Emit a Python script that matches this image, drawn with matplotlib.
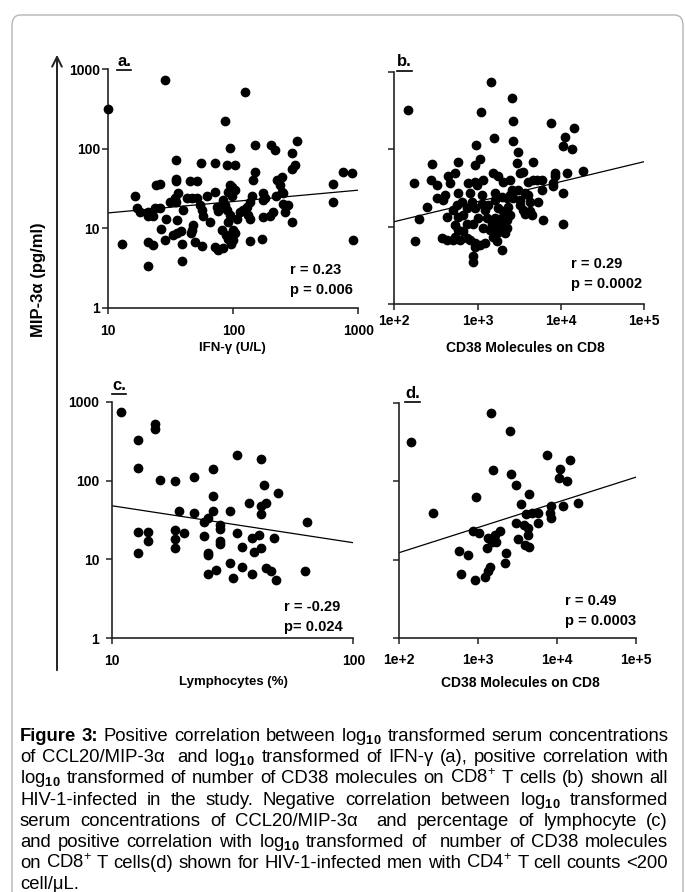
import numpy as np
import matplotlib
matplotlib.use('Agg')
import matplotlib.pyplot as plt
from matplotlib.patches import FancyBboxPatch, FancyArrowPatch
from matplotlib.lines import Line2D
from matplotlib.ticker import NullLocator

plt.rcParams['font.family'] = ['Liberation Sans', 'DejaVu Sans']
plt.rcParams['mathtext.fontset'] = 'custom'
plt.rcParams['mathtext.rm'] = 'Liberation Sans'
plt.rcParams['mathtext.bf'] = 'Liberation Sans:bold'

W, H = 685, 892

# values, stored as log10
# panel a: IFN-gamma (U/L) vs MIP-3a (pg/ml)
ifn_log = [1.00, 1.45, 2.09, 1.93, 1.11, 1.21, 1.23, 1.25, 1.32, 1.32,
           1.36, 1.32, 1.32, 1.36, 1.37, 1.41, 1.38, 1.41, 1.46, 1.42,
           1.45, 1.54, 1.54, 1.54, 1.49, 1.53, 1.54, 1.56, 1.60, 1.55,
           1.52, 1.55, 1.58, 1.59, 1.59, 1.65, 1.71, 1.63, 1.67, 1.71,
           1.68, 1.67, 1.66, 1.69, 1.73, 1.75, 1.76, 1.75, 1.74, 1.79,
           1.81, 1.85, 1.85, 1.87, 1.88, 1.85, 1.88, 1.92, 1.92, 1.93,
           1.91, 1.94, 1.96, 1.97, 1.95, 1.97, 1.96, 1.99, 1.95, 1.97,
           1.96, 2.01, 1.99, 2.01, 2.00, 1.98, 2.00, 2.01, 2.03, 2.05,
           2.08, 2.11, 2.13, 2.15, 2.12, 2.13, 2.16, 2.17, 2.17, 2.13,
           2.23, 2.24, 2.25, 2.24, 2.24, 2.29, 2.32, 2.30, 2.33, 2.35,
           2.39, 2.37, 2.39, 2.40, 2.40, 2.44, 2.41, 2.47, 2.47, 2.51,
           2.47, 2.49, 2.80, 2.80, 2.88, 2.95, 2.96, 2.34]
mip_a_log = [2.50, 2.87, 2.71, 2.35, 0.80, 1.41, 1.25, 1.21, 0.53, 0.83,
             0.79, 1.21, 1.15, 1.15, 1.25, 1.25, 1.54, 1.56, 1.11, 0.99,
             0.85, 1.86, 1.62, 1.59, 1.33, 1.38, 1.33, 1.44, 1.23, 1.10,
             0.91, 0.94, 0.96, 0.80, 0.59, 1.59, 1.59, 1.38, 1.38, 1.38,
             1.04, 0.98, 0.94, 0.83, 1.29, 1.23, 1.15, 0.78, 1.82, 1.40,
             1.08, 1.82, 1.46, 1.27, 1.22, 0.77, 0.72, 0.75, 1.36, 1.29,
             0.98, 0.91, 0.87, 2.01, 1.80, 1.54, 1.46, 1.40, 1.23, 1.17,
             1.08, 1.80, 1.52, 1.48, 0.85, 0.80, 0.98, 0.94, 1.12, 1.20,
             1.23, 1.27, 1.33, 1.40, 1.17, 1.12, 1.61, 1.71, 2.05, 0.84,
             0.87, 1.44, 1.38, 1.35, 1.14, 1.15, 1.21, 2.05, 1.99, 1.61,
             1.65, 1.54, 1.46, 1.44, 1.30, 1.29, 1.20, 1.08, 1.95, 2.10,
             1.75, 1.80, 1.56, 1.33, 1.71, 1.69, 0.85, 1.40]

# panel b: CD38 molecules on CD8, all patients
cd38_b_log = [2.16, 3.16, 3.41, 3.04, 3.43, 3.88, 4.16, 3.20, 3.42, 4.05,
              4.03, 4.13, 2.98, 3.49, 2.45, 2.76, 2.97, 3.03, 3.47, 3.66,
              2.24, 2.44, 2.51, 2.65, 2.73, 2.67, 2.89, 2.97, 3.07, 2.99,
              3.19, 3.25, 3.31, 3.39, 3.51, 3.55, 3.61, 3.67, 3.71, 3.77,
              3.93, 3.93, 4.07, 4.27, 3.91, 3.91, 3.77, 4.03, 2.51, 2.61,
              2.59, 2.39, 2.30, 2.25, 2.63, 2.77, 2.81, 2.75, 2.71, 2.91,
              2.93, 2.87, 2.97, 3.05, 3.05, 3.13, 3.09, 3.21, 3.21, 3.25,
              3.29, 3.35, 3.39, 3.37, 3.41, 3.49, 3.57, 3.61, 3.43, 3.51,
              3.63, 3.73, 3.51, 3.55, 3.63, 3.57, 3.65, 3.79, 4.03, 2.77,
              2.83, 2.73, 2.87, 2.95, 3.01, 3.11, 3.21, 3.29, 2.77, 2.83,
              2.73, 2.57, 2.63, 2.71, 2.79, 2.87, 2.91, 2.97, 3.07, 3.15,
              3.19, 3.23, 3.29, 3.33, 2.97, 3.03, 3.09, 3.23, 3.29, 2.95,
              2.95, 3.17, 3.23, 3.33, 3.31, 3.39, 3.35, 3.35, 3.33]
mip_b_log = [2.51, 2.87, 2.66, 2.48, 2.36, 2.34, 2.27, 2.15, 2.10, 2.16,
             2.04, 2.00, 2.05, 1.96, 1.81, 1.84, 1.80, 1.87, 1.82, 1.84,
             1.56, 1.60, 1.54, 1.65, 1.69, 1.56, 1.56, 1.58, 1.60, 1.54,
             1.69, 1.65, 1.58, 1.60, 1.69, 1.71, 1.58, 1.60, 1.60, 1.60,
             1.69, 1.65, 1.69, 1.72, 1.56, 1.52, 1.47, 1.44, 1.37, 1.41,
             1.35, 1.26, 1.10, 0.82, 1.13, 1.43, 1.32, 1.28, 1.22, 1.43,
             1.32, 1.24, 1.24, 1.41, 1.30, 1.28, 1.22, 1.43, 1.35, 1.24,
             1.39, 1.37, 1.41, 1.26, 1.47, 1.47, 1.43, 1.41, 1.37, 1.35,
             1.32, 1.32, 1.28, 1.22, 1.20, 1.17, 1.15, 1.09, 1.03, 1.13,
             1.15, 1.02, 1.04, 1.04, 1.11, 1.11, 1.11, 1.11, 0.96, 0.94,
             0.87, 0.85, 0.83, 0.83, 0.83, 0.85, 0.83, 0.79, 0.98, 0.96,
             0.87, 0.92, 0.94, 0.98, 0.74, 0.77, 0.79, 0.81, 0.70, 0.62,
             0.55, 1.04, 1.02, 1.07, 1.20, 1.15, 1.09, 0.98, 0.92]

# panel c: lymphocytes (%), CD4 < 200
lymph_log = [1.04, 1.11, 1.18, 1.18, 1.11, 1.20, 1.26, 1.34, 1.42, 1.52,
             1.62, 1.63, 1.69, 1.42, 1.57, 1.62, 1.64, 1.62, 1.28, 1.34,
             1.42, 1.49, 1.11, 1.15, 1.15, 1.11, 1.26, 1.26, 1.26, 1.30,
             1.38, 1.40, 1.38, 1.45, 1.45, 1.45, 1.45, 1.40, 1.40, 1.52,
             1.58, 1.61, 1.62, 1.67, 1.54, 1.59, 1.40, 1.43, 1.49, 1.50,
             1.54, 1.58, 1.64, 1.66, 1.68, 1.80, 1.81]
mip_c_log = [2.87, 2.51, 2.72, 2.65, 2.16, 2.01, 2.00, 2.05, 2.15, 2.33,
             2.27, 1.95, 1.84, 1.80, 1.71, 1.68, 1.72, 1.58, 1.61, 1.59,
             1.61, 1.61, 1.35, 1.35, 1.23, 1.08, 1.37, 1.26, 1.14, 1.33,
             1.48, 1.52, 1.30, 1.44, 1.38, 1.23, 1.20, 1.08, 1.05, 1.33,
             1.27, 1.31, 1.14, 1.27, 1.16, 1.10, 0.82, 0.87, 0.95, 0.77,
             0.90, 0.82, 0.89, 0.85, 0.74, 0.85, 1.47]

# panel d: CD38 molecules on CD8, CD4 < 200
cd38_d_log = [2.15, 3.16, 3.40, 3.87, 4.16, 4.04, 3.19, 3.41, 4.02, 4.12,
              3.48, 2.97, 3.65, 2.43, 3.54, 3.92, 4.07, 4.26, 3.61, 3.68,
              3.76, 3.91, 3.92, 3.76, 3.48, 3.58, 3.63, 3.63, 3.50, 3.59,
              3.64, 2.93, 3.01, 3.21, 3.28, 3.13, 3.17, 3.11, 3.23, 2.76,
              2.87, 3.35, 3.34, 2.78, 3.15, 3.12, 3.09, 2.96]
mip_d_log = [2.50, 2.87, 2.65, 2.34, 2.27, 2.16, 2.15, 2.10, 2.04, 2.00,
             1.95, 1.80, 1.84, 1.60, 1.71, 1.68, 1.68, 1.72, 1.58, 1.59,
             1.60, 1.59, 1.53, 1.47, 1.47, 1.44, 1.40, 1.31, 1.26, 1.19,
             1.16, 1.37, 1.34, 1.31, 1.36, 1.27, 1.23, 1.15, 1.22, 1.11,
             1.06, 1.08, 0.96, 0.82, 0.91, 0.85, 0.78, 0.74]

# regression lines (intercept, slope) in log10-log10 space
fit_a = (1.05, 0.143)
fit_b = (0.55, 0.258)
fit_c = (2.15, -0.469)
fit_d = (0.445, 0.322)

stats_a = ['r = 0.23', 'p = 0.006']
stats_b = ['r = 0.29', 'p = 0.0002']
stats_c = ['r = -0.29', 'p= 0.024']
stats_d = ['r = 0.49', 'p = 0.0003']

y_ticks = [1, 10, 100, 1000]
y_ticklabels = ['1', '10', '100', '1000']
ifn_ticks = [10, 100, 1000]
ifn_ticklabels = ['10', '100', '1000']
lymph_ticks = [10, 100]
lymph_ticklabels = ['10', '100']
cd38_ticks = [1e2, 1e3, 1e4, 1e5]
cd38_ticklabels = ['1e+2', '1e+3', '1e+4', '1e+5']

caption = [
    "Figure 3: Positive correlation between log$_{\\mathbf{10}}$ transformed serum concentrations",
    "of CCL20/MIP-3α  and log$_{\\mathbf{10}}$ transformed of IFN-γ (a), positive correlation with",
    "log$_{\\mathbf{10}}$ transformed of number of CD38 molecules on CD8$^{+}$ T cells (b) shown all",
    "HIV-1-infected in the study. Negative correlation between log$_{\\mathbf{10}}$ transformed",
    "serum concentrations of CCL20/MIP-3α  and percentage of lymphocyte (c)",
    "and positive correlation with log$_{\\mathbf{10}}$ transformed of  number of CD38 molecules",
    "on CD8$^{+}$ T cells(d) shown for HIV-1-infected men with CD4$^{+}$ T cell counts <200",
    "cell/μL.",
]

fig = plt.figure(figsize=(W / 100, H / 100), dpi=100)

# rounded frame around the figure
frame = FancyBboxPatch((12 / W, -0.05), 671 / W, 1.05 - 15 / H,
                       boxstyle='round,pad=0,rounding_size=0.012',
                       transform=fig.transFigure, ec='#b4b4b4', fc='none', lw=1.0)
fig.patches.append(frame)


def make_panel(box, x, y, fit, xlim, xticks, xticklabels, ylabels, xpad, ypad):
    left, right, top, bottom = box
    ax = fig.add_axes([left / W, 1 - bottom / H, (right - left) / W, (bottom - top) / H])
    ax.set_xscale('log')
    ax.set_yscale('log')
    ax.set_xlim(xlim)
    ax.set_ylim(1, 1000)
    for s in ['top', 'right']:
        ax.spines[s].set_visible(False)
    for s in ['left', 'bottom']:
        ax.spines[s].set_linewidth(1.2)
        ax.spines[s].set_color('#222222')
    ax.set_xticks(xticks)
    ax.set_xticklabels(xticklabels)
    ax.set_yticks(y_ticks)
    ax.set_yticklabels(y_ticklabels if ylabels else [])
    ax.xaxis.set_minor_locator(NullLocator())
    ax.yaxis.set_minor_locator(NullLocator())
    ax.tick_params(axis='both', direction='out', length=4, width=1.1, color='#222222',
                   labelsize=10)
    ax.tick_params(axis='x', pad=xpad)
    ax.tick_params(axis='y', pad=ypad)
    for lab in ax.get_xticklabels() + ax.get_yticklabels():
        lab.set_fontweight('bold')
    ax.patch.set_alpha(0)

    xs = 10 ** np.array(x)
    ys = 10 ** np.array(y)
    ax.plot(xs, ys, 'o', color='black', markersize=6, clip_on=False, zorder=3)
    lx = np.log10(np.array(xlim))
    ax.plot(10 ** lx, 10 ** (fit[0] + fit[1] * lx), color='black', lw=0.9, zorder=2)
    return ax


ax_a = make_panel((108.3, 358.3, 69.3, 307.7), ifn_log, mip_a_log, fit_a, (10, 1000),
                  ifn_ticks, ifn_ticklabels, True, 8, 2)
ax_b = make_panel((394.3, 644.3, 71.7, 304.3), cd38_b_log, mip_b_log, fit_b, (1e2, 1e5),
                  cd38_ticks, cd38_ticklabels, False, 3, 2)
ax_c = make_panel((111.7, 353.3, 401.7, 638.3), lymph_log, mip_c_log, fit_c, (10, 100),
                  lymph_ticks, lymph_ticklabels, True, 7, 5)
ax_d = make_panel((399.3, 636.0, 403.3, 637.7), cd38_d_log, mip_d_log, fit_d, (1e2, 1e5),
                  cd38_ticks, cd38_ticklabels, False, 7, 2)


def ftext(x, y, s, **kw):
    return fig.text(x / W, 1 - y / H, s, **kw)


# axis titles
ftext(232, 348, 'IFN-γ (U/L)', ha='center', va='center', fontsize=9.5, fontweight='bold')
ftext(525, 348, 'CD38 Molecules on CD8', ha='center', va='center', fontsize=10, fontweight='bold')
ftext(233, 682, 'Lymphocytes (%)', ha='center', va='center', fontsize=9.5, fontweight='bold')
ftext(520, 683, 'CD38 Molecules on CD8', ha='center', va='center', fontsize=10, fontweight='bold')

# stats
for (x0, y0), st in zip([(290, 270), (571, 264), (284, 607), (565, 601)],
                        [stats_a, stats_b, stats_c, stats_d]):
    ftext(x0, y0, st[0], ha='left', va='center', fontsize=10.5, fontweight='bold')
    ftext(x0, y0 + 20, st[1], ha='left', va='center', fontsize=10.5, fontweight='bold')

# y title and long arrow
ftext(39, 280, 'MIP-3α (pg/ml)', ha='center', va='center', rotation=90,
      fontsize=12, fontweight='bold')
arrow = FancyArrowPatch((57 / W, 1 - 673 / H), (57 / W, 1 - 52 / H),
                        transform=fig.transFigure, arrowstyle='->,head_length=7,head_width=3.5',
                        lw=1.4, color='#222222', mutation_scale=1)
fig.patches.append(arrow)

# panel letters
letters = []
for (x0, y0), s in zip([(117, 61), (397, 62), (112, 385), (405, 393)], ['a.', 'b.', 'c.', 'd.']):
    letters.append(ftext(x0, y0, s, ha='left', va='center', fontsize=12, fontweight='bold'))

fig.canvas.draw()
renderer = fig.canvas.get_renderer()
for t in letters:
    bb = t.get_window_extent(renderer)
    yline = (bb.y0 - 1) / H
    fig.add_artist(Line2D([bb.x0 / W, bb.x1 / W], [yline, yline], transform=fig.transFigure,
                          color='black', lw=1.2))

# caption, justified; font size chosen so the widest line fits with normal spacing
cap_fam = ['Liberation Sans', 'DejaVu Sans']
cap_left, cap_right = 20, 668
cap_y0, cap_dy = 741, 21.2
base_size = 12
space_px = 0.278 * base_size * 100 / 72

rows = []
for i, line in enumerate(caption[:-1]):
    y = cap_y0 + i * cap_dy
    words = line.split(' ')
    texts = []
    for j, w in enumerate(words):
        bold = (i == 0 and j < 2)
        texts.append(ftext(0, y, w, ha='left', va='baseline', fontsize=base_size,
                           family=cap_fam, fontweight='bold' if bold else 'normal'))
    rows.append((words, texts))

natural = []
for words, texts in rows:
    wsum = sum(t.get_window_extent(renderer).width for t, w in zip(texts, words) if w)
    natural.append(wsum + (len(words) - 1) * space_px)
cap_size = base_size * (cap_right - cap_left) / max(natural)

for words, texts in rows:
    for t in texts:
        t.set_fontsize(cap_size)
    widths = [t.get_window_extent(renderer).width if w else 0 for t, w in zip(texts, words)]
    gap = (cap_right - cap_left - sum(widths)) / (len(words) - 1)
    x = cap_left
    for t, wd in zip(texts, widths):
        t.set_x(x / W)
        x += wd + gap

ftext(cap_left, cap_y0 + (len(caption) - 1) * cap_dy, caption[-1], ha='left', va='baseline',
      fontsize=cap_size, family=cap_fam)

fig.savefig('out.png', dpi=100)
